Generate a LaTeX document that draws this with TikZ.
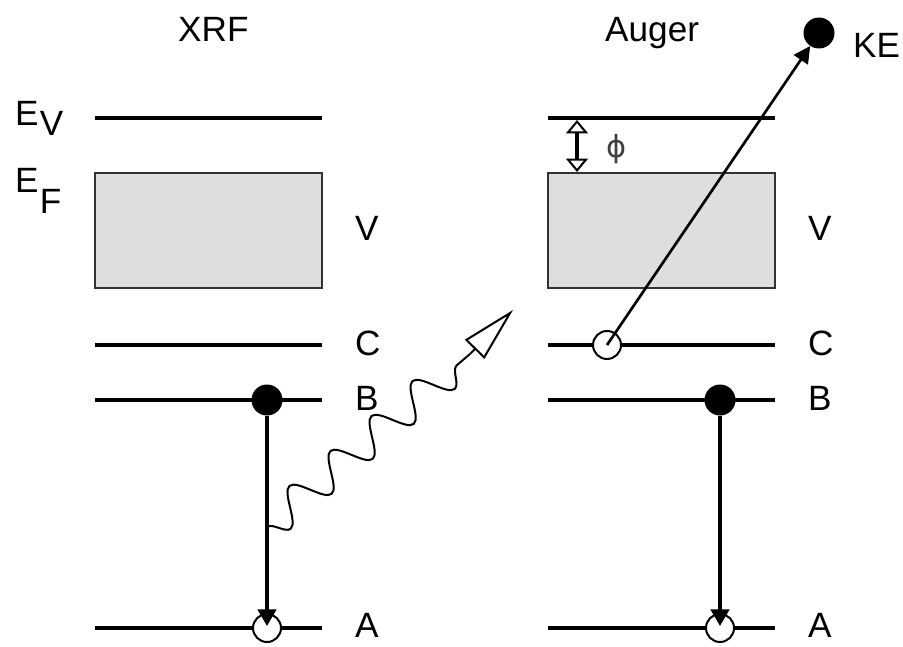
\documentclass[tikz,border=0pt]{standalone}
\usepackage{fontspec}
\setmainfont{Liberation Sans}
\newfontfamily\symfont{DejaVu Sans}
\definecolor{bandfill}{RGB}{222, 222, 222}
\usetikzlibrary{arrows.meta, decorations.pathmorphing}

\begin{document}
\begin{tikzpicture}[x=0.3mm, y=-0.3mm,
    level/.style={line width=1.2mm},
    band/.style={draw=black!80, line width=0.8mm, fill=bandfill},
    lbl/.style={anchor=base west, inner sep=0pt, font=\fontsize{30}{36}\selectfont},
    electron/.style={circle, fill=black, minimum size=9.3mm, inner sep=0pt},
    hole/.style={circle, draw=black, fill=white, line width=0.6mm, minimum size=8.4mm, inner sep=0pt},
    trans/.style={line width=1.1mm, -{Triangle[length=5mm, width=5.5mm]}},
    photon/.style={line width=0.6mm, decorate,
        decoration={snake, segment length=16.17mm, amplitude=-5mm}}]
    \useasboundingbox (0,0) rectangle (903,647);

    % Energy levels and valence band (XRF left, Auger right)
    \foreach \x in {95, 548} {
        \foreach \y in {118, 345, 400, 628}
            \draw[level] (\x,\y) -- ++(227,0);
        \draw[band] (\x,173) rectangle ++(227,115);
    }

    % Titles and level labels
    \node[lbl] (xrf) at (178,42) {XRF};
    \node[lbl] (auger) at (605,42) {Auger};
    \node[lbl] (ev) at (15,125) {E\kern1pt\raisebox{-3mm}{V}};
    \node[lbl] (ef) at (15,192) {E\kern1pt\raisebox{-6.3mm}{F}};
    \foreach \x/\s in {355/l, 808/r} {
        \node[lbl] (v\s) at (\x,240) {V};
        \node[lbl] (c\s) at (\x,355) {C};
        \node[lbl] (b\s) at (\x,410) {B};
        \node[lbl] (a\s) at (\x,637) {A};
    }

    % Electrons and holes
    \node[electron] (bl) at (267,400) {};
    \node[hole] (al) at (267,628) {};
    \node[electron] (br) at (720,400) {};
    \node[hole] (ar) at (720,628) {};
    \node[hole] (cr) at (607,345) {};
    \node[electron] (ke) at (819,33) {};
    \node[lbl] (kelbl) at (853,58) {KE};

    % Transitions
    \draw[trans, shorten >=0.6mm] (bl) -- (al.center);
    \draw[trans, shorten >=0.6mm] (br) -- (ar.center);
    \draw[line width=0.8mm, -{Triangle[length=5mm, width=5mm]}] (cr.center) -- (ke);

    % Emitted x-ray photon
    \coordinate (emit) at (267,527);
    \coordinate (wend) at (470,354);
    \coordinate (wtip) at (513,310);
    \draw[photon] (emit) -- (wend);
    \draw[line width=0.6mm, -{Triangle[open, length=16.5mm, width=8.1mm]}] (wend) -- (wtip);

    % Work function
    \coordinate (vac) at (577,120);
    \coordinate (fermi) at (577,172);
    \draw[line width=1.1mm, {Triangle[open, length=4mm, width=6.5mm, line width=0.6mm]}-{Triangle[open, length=4mm, width=6.5mm, line width=0.6mm]}] (vac) -- (fermi);
    \node[font=\symfont\fontsize{26}{30}\selectfont, text=black!75] (phi) at (617,149) {ϕ};
\end{tikzpicture}
\end{document}
